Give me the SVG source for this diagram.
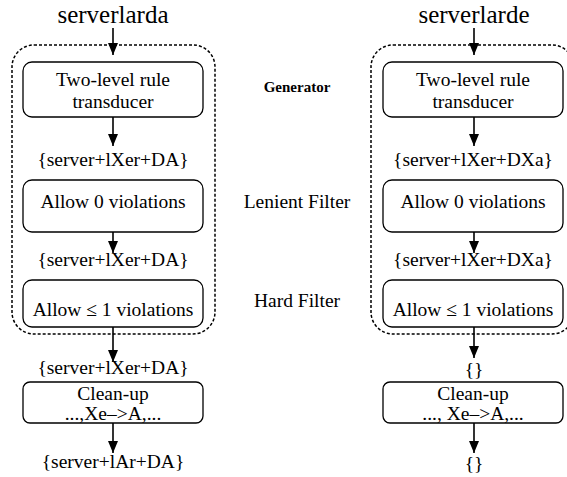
<svg xmlns="http://www.w3.org/2000/svg" width="567" height="477" viewBox="0 0 567 477">
<style>
text{fill:#000;text-anchor:middle}
.box{fill:#fff;stroke:#000;stroke-width:1.3}
.dash{fill:none;stroke:#000;stroke-width:1.5;stroke-dasharray:3 2}
.arr{stroke:#000;stroke-width:1.6;fill:none;marker-end:url(#ah)}
</style>
<defs>
<marker id="ah" markerUnits="userSpaceOnUse" markerWidth="12" markerHeight="10" viewBox="0 0 12 10" refX="12" refY="5" orient="auto">
<path d="M0,0 L12,5 L0,10 Z" fill="#000"/>
</marker>
</defs>
<g id="groups">
<rect class="dash" x="12" y="45" width="203" height="289" rx="22"/>
<rect class="dash" x="371" y="45" width="203" height="289" rx="22"/>
</g>
<g id="connectors">
<line class="arr" x1="113" y1="28" x2="113" y2="55"/>
<line class="arr" x1="113" y1="117" x2="113" y2="146"/>
<line class="arr" x1="113" y1="232" x2="113" y2="253"/>
<line class="arr" x1="113" y1="327" x2="113" y2="362"/>
<line class="arr" x1="113" y1="423" x2="113" y2="453"/>
<line class="arr" x1="474" y1="28" x2="474" y2="55"/>
<line class="arr" x1="474" y1="117" x2="474" y2="146"/>
<line class="arr" x1="474" y1="232" x2="474" y2="253"/>
<line class="arr" x1="474" y1="327" x2="474" y2="358"/>
<line class="arr" x1="474" y1="423" x2="474" y2="453"/>
</g>
<g font-family="'Liberation Serif', 'Times New Roman', serif" font-size="19.5">
<g id="labels">
<text x="297" y="92" font-size="15" font-weight="bold">Generator</text>
<text x="297" y="208">Lenient Filter</text>
<text x="297" y="307">Hard Filter</text>
</g>
<g id="left-input"><text x="113" y="23" font-size="25">serverlarda</text></g>
<g id="left-transducer">
<rect class="box" x="23" y="62" width="180" height="55" rx="9"/>
<text x="113" y="86">Two-level rule</text>
<text x="113" y="108">transducer</text>
</g>
<g id="left-out1"><text x="113" y="166">{server+lXer+DA}</text></g>
<g id="left-lenient">
<rect class="box" x="23" y="180" width="180" height="52" rx="9"/>
<text x="113" y="208">Allow 0 violations</text>
</g>
<g id="left-out2"><text x="113" y="266">{server+lXer+DA}</text></g>
<g id="left-hard">
<rect class="box" x="23" y="280" width="180" height="47" rx="9"/>
<text x="113" y="316">Allow ≤ 1 violations</text>
</g>
<g id="left-out3"><text x="113" y="374">{server+lXer+DA}</text></g>
<g id="left-cleanup">
<rect class="box" x="23" y="382" width="180" height="41" rx="7"/>
<text x="113" y="400">Clean-up</text>
<text x="113" y="420">...,Xe–&gt;A,...</text>
</g>
<g id="left-result"><text x="113" y="468">{server+lAr+DA}</text></g>
<g id="right-input"><text x="474" y="23" font-size="25">serverlarde</text></g>
<g id="right-transducer">
<rect class="box" x="383" y="62" width="180" height="55" rx="9"/>
<text x="473" y="86">Two-level rule</text>
<text x="473" y="108">transducer</text>
</g>
<g id="right-out1"><text x="473" y="166">{server+lXer+DXa}</text></g>
<g id="right-lenient">
<rect class="box" x="383" y="180" width="180" height="52" rx="9"/>
<text x="473" y="208">Allow 0 violations</text>
</g>
<g id="right-out2"><text x="473" y="266">{server+lXer+DXa}</text></g>
<g id="right-hard">
<rect class="box" x="383" y="280" width="180" height="47" rx="9"/>
<text x="473" y="316">Allow ≤ 1 violations</text>
</g>
<g id="right-out3"><text x="474" y="376">{}</text></g>
<g id="right-cleanup">
<rect class="box" x="383" y="382" width="180" height="41" rx="7"/>
<text x="473" y="400">Clean-up</text>
<text x="473" y="420">..., Xe–&gt;A,...</text>
</g>
<g id="right-result"><text x="474" y="470">{}</text></g>
</g>
</svg>
